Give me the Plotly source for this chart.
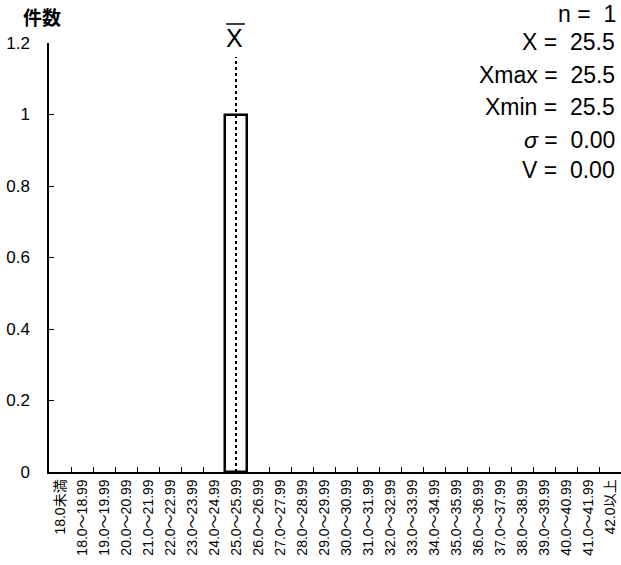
import plotly.graph_objects as go

categories = ["18.0未満"] + [f"{v}.0～{v}.99" for v in range(18, 42)] + ["42.0以上"]
counts = [0, 0, 0, 0, 0, 0, 0, 0, 1, 0, 0, 0, 0, 0, 0, 0, 0, 0, 0, 0, 0, 0, 0, 0, 0, 0]
mean_value = 25.5
stat_labels = ["n", "X", "Xmax", "Xmin", "<i>σ</i>", "V"]
stat_values = ["1", "25.5", "25.5", "25.5", "0.00", "0.00"]
y_ticks = [0, 0.2, 0.4, 0.6, 0.8, 1, 1.2]

FONT = "Liberation Sans, Arial, Noto Sans CJK JP, sans-serif"
JFONT = "Liberation Sans, Noto Sans CJK JP, sans-serif"

W, H = 621, 565
ML, MR, MT, MB = 49, 0, 43, 93
plot_h = H - MT - MB


def py(pix):
    return (H - MB - pix) / plot_h


fig = go.Figure()
fig.add_trace(go.Bar(
    x=categories,
    y=[v if v else None for v in counts],
    marker=dict(color="white", line=dict(color="black", width=2.5)),
    width=1.0,
    showlegend=False,
    hoverinfo="skip",
))

mean_idx = int(mean_value - 18) + 1
fig.add_shape(type="line", xref="x", yref="paper", x0=mean_idx, x1=mean_idx,
              y0=0, y1=py(57), line=dict(color="black", width=2, dash="dot"))
# X-bar label
fig.add_annotation(x=mean_idx, xref="x", y=py(38), yref="paper", text="X",
                   showarrow=False, font=dict(family=FONT, size=25, color="black"),
                   xanchor="center", yanchor="middle", xshift=-2)
fig.add_shape(type="line", xref="x", yref="paper", x0=mean_idx - 0.45, x1=mean_idx + 0.4,
              y0=py(24), y1=py(24), line=dict(color="black", width=1.5))

line_y = [None, 42, 75, 107, 140, 170]
for lab, val, yy in zip(stat_labels, stat_values, line_y):
    if yy is None:
        pos = dict(y=py(0), yanchor="top", borderpad=0)
    else:
        pos = dict(y=py(yy), yanchor="middle")
    fig.add_annotation(x=1, xref="paper", yref="paper",
                       text=f"{lab} =&nbsp; {val}", showarrow=False,
                       xanchor="right", xshift=-4,
                       font=dict(family=FONT, size=23, color="black"), **pos)

fig.add_annotation(x=0, xref="paper", y=py(16), yref="paper", text="<b>件数</b>",
                   showarrow=False, xanchor="right", yanchor="middle", xshift=14,
                   font=dict(family="Noto Sans CJK JP, sans-serif", size=19, color="black"))

fig.update_layout(
    width=W, height=H,
    margin=dict(l=ML, r=MR, t=MT, b=MB, pad=0, autoexpand=False),
    paper_bgcolor="white", plot_bgcolor="white",
    bargap=0,
    xaxis=dict(
        type="category", categoryorder="array", categoryarray=categories,
        range=[-0.5, len(categories) - 0.5], automargin=False,
        showline=True, linecolor="black", linewidth=1.5,
        ticks="inside", ticklen=5, tickcolor="black", tickson="boundaries",
        tickangle=-90, showgrid=False, zeroline=False,
        tickfont=dict(family=JFONT, size=14, color="black"),
    ),
    yaxis=dict(
        range=[0, 1.2], tickvals=y_ticks, ticktext=[f"{t:g}" for t in y_ticks],
        automargin=False,
        showline=True, linecolor="black", linewidth=1.5,
        ticks="inside", ticklen=5, tickcolor="black",
        showgrid=False, zeroline=False, ticklabelstandoff=14,
        tickfont=dict(family=FONT, size=17, color="black"),
    ),
)

fig.write_html("out.html", config={"displayModeBar": False},
               post_script="document.body.style.margin='0';document.body.style.overflow='hidden';")
